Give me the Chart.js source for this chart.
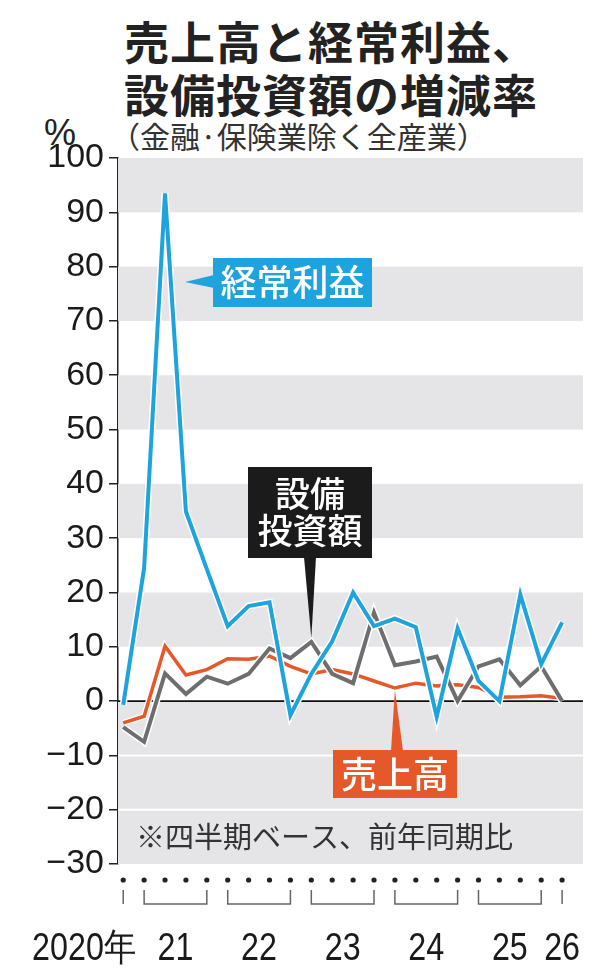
<!DOCTYPE html>
<html>
<head>
<meta charset="utf-8">
<script src="https://cdn.jsdelivr.net/npm/chart.js@4.4.0/dist/chart.umd.min.js"></script>
<style>
    html, body { margin: 0; padding: 0; background: #fff; }
    #wrap { position: relative; width: 600px; height: 973px; overflow: hidden; }
    #title { position: absolute; left: 124px; top: 14px; font-family: "Noto Sans CJK JP"; font-weight: 700; font-size: 45px; line-height: 53px; color: #222; letter-spacing: 1px; white-space: nowrap; }
    #sub { position: absolute; left: 110px; top: 115px; font-family: "Noto Sans CJK JP"; font-size: 30px; line-height: 40px; color: #333; white-space: nowrap; }
    #unit { position: absolute; left: 44px; top: 112px; font-family: "Liberation Sans"; font-size: 36px; color: #222; }
    canvas { position: absolute; left: 0; top: 0; }
</style>
</head>
<body>
<div id="wrap">
    <div id="title">売上高と経常利益、<br>設備投資額の増減率</div>
    <div id="sub">（金融·保険業除く全産業）</div>
    <div id="unit">%</div>
    <canvas id="growthChart" width="600" height="973"></canvas>
</div>
<script>
// quarters, 2020 Oct-Dec .. 2026 Jan-Mar
const quarters = ['2020-4', '2021-1', '2021-2', '2021-3', '2021-4', '2022-1', '2022-2', '2022-3', '2022-4',
    '2023-1', '2023-2', '2023-3', '2023-4', '2024-1', '2024-2', '2024-3', '2024-4',
    '2025-1', '2025-2', '2025-3', '2025-4', '2026-1'];
const profitGrowth = [-0.7, 24.5, 93.5, 34.9, 24.3, 13.8, 17.5, 18.2, -2.6, 5, 11, 20, 13.8, 15.2, 13.6, -2.9, 13.4, 3.7, 0, 19.6, 6.8, 14.5];
const capexGrowth = [-4.8, -7.5, 5.1, 1.3, 4.5, 3.2, 5, 9.7, 7.9, 10.9, 5, 3.3, 16.3, 6.6, 7.3, 8.2, 0, 6.4, 7.7, 2.9, 6.4, 0];
const salesGrowth = [-4.0, -2.8, 10.1, 4.8, 5.8, 7.8, 7.7, 8.3, 6.4, 5, 5.8, 5, 3.7, 2.4, 3.3, 2.8, 3, 2.5, 0.7, 0.8, 1, 0.5];
const yearLabels = ['2020年', '21', '22', '23', '24', '25', '26'];
const yMin = -30, yMax = 100, yStep = 10;

const CYAN = '#1fa3dc';
const GRAY = '#6e6e6e';
const ORANGE = '#e5582a';
const BAND = '#e5e5e8';

const toXY = (arr) => arr.map((v, i) => ({ x: i, y: v }));

function lineSet(label, data, color, width) {
    return { label, data: toXY(data), borderColor: color, borderWidth: width, pointRadius: 0, tension: 0, borderJoinStyle: 'miter', fill: false };
}

const bandsPlugin = {
    id: 'bands',
    beforeDatasetsDraw(chart) {
        const { ctx, chartArea: a, scales: { y } } = chart;
        ctx.save();
        for (let v = yMin; v < yMax; v += yStep) {
            if (v < 0 || (v / 10) % 2 === 1) {
                ctx.fillStyle = BAND;
                const top = y.getPixelForValue(v + yStep), bot = y.getPixelForValue(v);
                ctx.fillRect(a.left, top, a.right - a.left, bot - top);
            }
        }
        ctx.strokeStyle = '#fff';
        ctx.lineWidth = 2;
        [-10, -20].forEach((v) => {
            const py = y.getPixelForValue(v);
            ctx.beginPath(); ctx.moveTo(a.left, py); ctx.lineTo(a.right, py); ctx.stroke();
        });
        ctx.fillStyle = '#333';
        ctx.font = '29px "Noto Sans CJK JP"';
        ctx.textBaseline = 'middle';
        ctx.fillText('※四半期ベース、前年同期比', 136, y.getPixelForValue(-25));
        const zy = y.getPixelForValue(0);
        ctx.strokeStyle = '#111';
        ctx.lineWidth = 1.6;
        ctx.beginPath(); ctx.moveTo(a.left, zy); ctx.lineTo(a.right, zy); ctx.stroke();
        ctx.restore();
    }
};

function callout(ctx, box, tip, base, color, lines, fontSize, lineH) {
    ctx.fillStyle = color;
    ctx.fillRect(box.x, box.y, box.w, box.h);
    ctx.beginPath();
    ctx.moveTo(base[0][0], base[0][1]);
    ctx.lineTo(tip[0], tip[1]);
    ctx.lineTo(base[1][0], base[1][1]);
    ctx.closePath();
    ctx.fill();
    ctx.fillStyle = '#fff';
    ctx.font = `500 ${fontSize}px "Noto Sans CJK JP"`;
    ctx.textAlign = 'center';
    ctx.textBaseline = 'middle';
    const cx = box.x + box.w / 2;
    const cy = box.y + box.h / 2 - (lines.length - 1) * lineH / 2;
    lines.forEach((t, i) => ctx.fillText(t, cx, cy + i * lineH));
}

const labelsPlugin = {
    id: 'labels',
    afterDatasetsDraw(chart) {
        const { ctx, scales: { x, y } } = chart;
        ctx.save();
        // 経常利益
        callout(ctx, { x: 213, y: 258, w: 159, h: 49 }, [185, 282], [[214, 275], [214, 288]], CYAN, ['経常利益'], 36, 0);
        // 設備投資額 -> capex point
        const cTip = [x.getPixelForValue(9), y.getPixelForValue(capexGrowth[9]) - 4];
        callout(ctx, { x: 248, y: 467, w: 124, h: 91 }, cTip, [[304, 557], [316, 557]], '#1b1b1b', ['設備', '投資額'], 35, 37);
        // 売上高 -> sales point
        const sTip = [x.getPixelForValue(13), y.getPixelForValue(salesGrowth[13]) + 2];
        callout(ctx, { x: 333, y: 750, w: 124, h: 48 }, sTip, [[391, 751], [403, 751]], ORANGE, ['売上高'], 36, 0);
        ctx.restore();
    },
    afterDraw(chart) {
        const { ctx, scales: { x } } = chart;
        ctx.save();
        ctx.fillStyle = '#222';
        quarters.forEach((q, i) => {
            ctx.beginPath();
            ctx.arc(x.getPixelForValue(i), 880, 2.6, 0, Math.PI * 2);
            ctx.fill();
        });
        // year brackets
        const groups = [];
        quarters.forEach((q, i) => {
            const yr = q.slice(0, 4);
            const g = groups[groups.length - 1];
            if (g && g.yr === yr) g.last = i; else groups.push({ yr, first: i, last: i });
        });
        ctx.strokeStyle = '#666';
        ctx.lineWidth = 1.5;
        groups.forEach((g, gi) => {
            const x0 = x.getPixelForValue(g.first), x1 = x.getPixelForValue(g.last);
            ctx.beginPath();
            if (g.first === g.last) {
                ctx.moveTo(x0, 890); ctx.lineTo(x0, 904);
            } else {
                ctx.moveTo(x0, 890); ctx.lineTo(x0, 904); ctx.lineTo(x1, 904); ctx.lineTo(x1, 890);
            }
            ctx.stroke();
            ctx.fillStyle = '#1a1a1a';
            ctx.font = '38px "Liberation Sans Narrow", "Liberation Sans"';
            ctx.textBaseline = 'middle';
            ctx.save();
            if (gi === 0) {
                ctx.textAlign = 'right';
                ctx.translate(x0 + 13, 950);
            } else {
                ctx.textAlign = 'center';
                ctx.translate((x0 + x1) / 2, 950);
            }
            ctx.scale(0.85, 1);
            ctx.fillText(yearLabels[gi], 0, 0);
            ctx.restore();
        });
        ctx.restore();
    }
};

new Chart(document.getElementById('growthChart').getContext('2d'), {
    type: 'line',
    data: {
        datasets: [
            lineSet('経常利益', profitGrowth, CYAN, 4),
            lineSet('', profitGrowth, '#fff', 7),
            lineSet('設備投資額', capexGrowth, GRAY, 4),
            lineSet('', capexGrowth, '#fff', 7),
            lineSet('売上高', salesGrowth, ORANGE, 3.5),
            lineSet('', salesGrowth, '#fff', 6)
        ]
    },
    options: {
        responsive: false,
        animation: false,
        layout: { padding: { top: 158, bottom: 109, left: 0, right: 17 } },
        plugins: { legend: { display: false }, tooltip: { enabled: false } },
        scales: {
            x: { type: 'linear', min: -0.25, max: 22, display: false },
            y: {
                min: yMin, max: yMax,
                afterFit: (s) => { s.width = 118; },
                ticks: {
                    stepSize: yStep,
                    color: '#1a1a1a',
                    padding: 5,
                    font: { family: '"Liberation Sans Narrow", "Liberation Sans"', size: 34 },
                    callback: (v) => (v < 0 ? '−' + Math.abs(v) : String(v))
                },
                grid: { drawOnChartArea: false, drawTicks: true, tickLength: 9, color: '#222', lineWidth: 1.5 },
                border: { display: true, color: '#222', width: 1.5 }
            }
        }
    },
    plugins: [bandsPlugin, labelsPlugin]
});
</script>
</body>
</html>
